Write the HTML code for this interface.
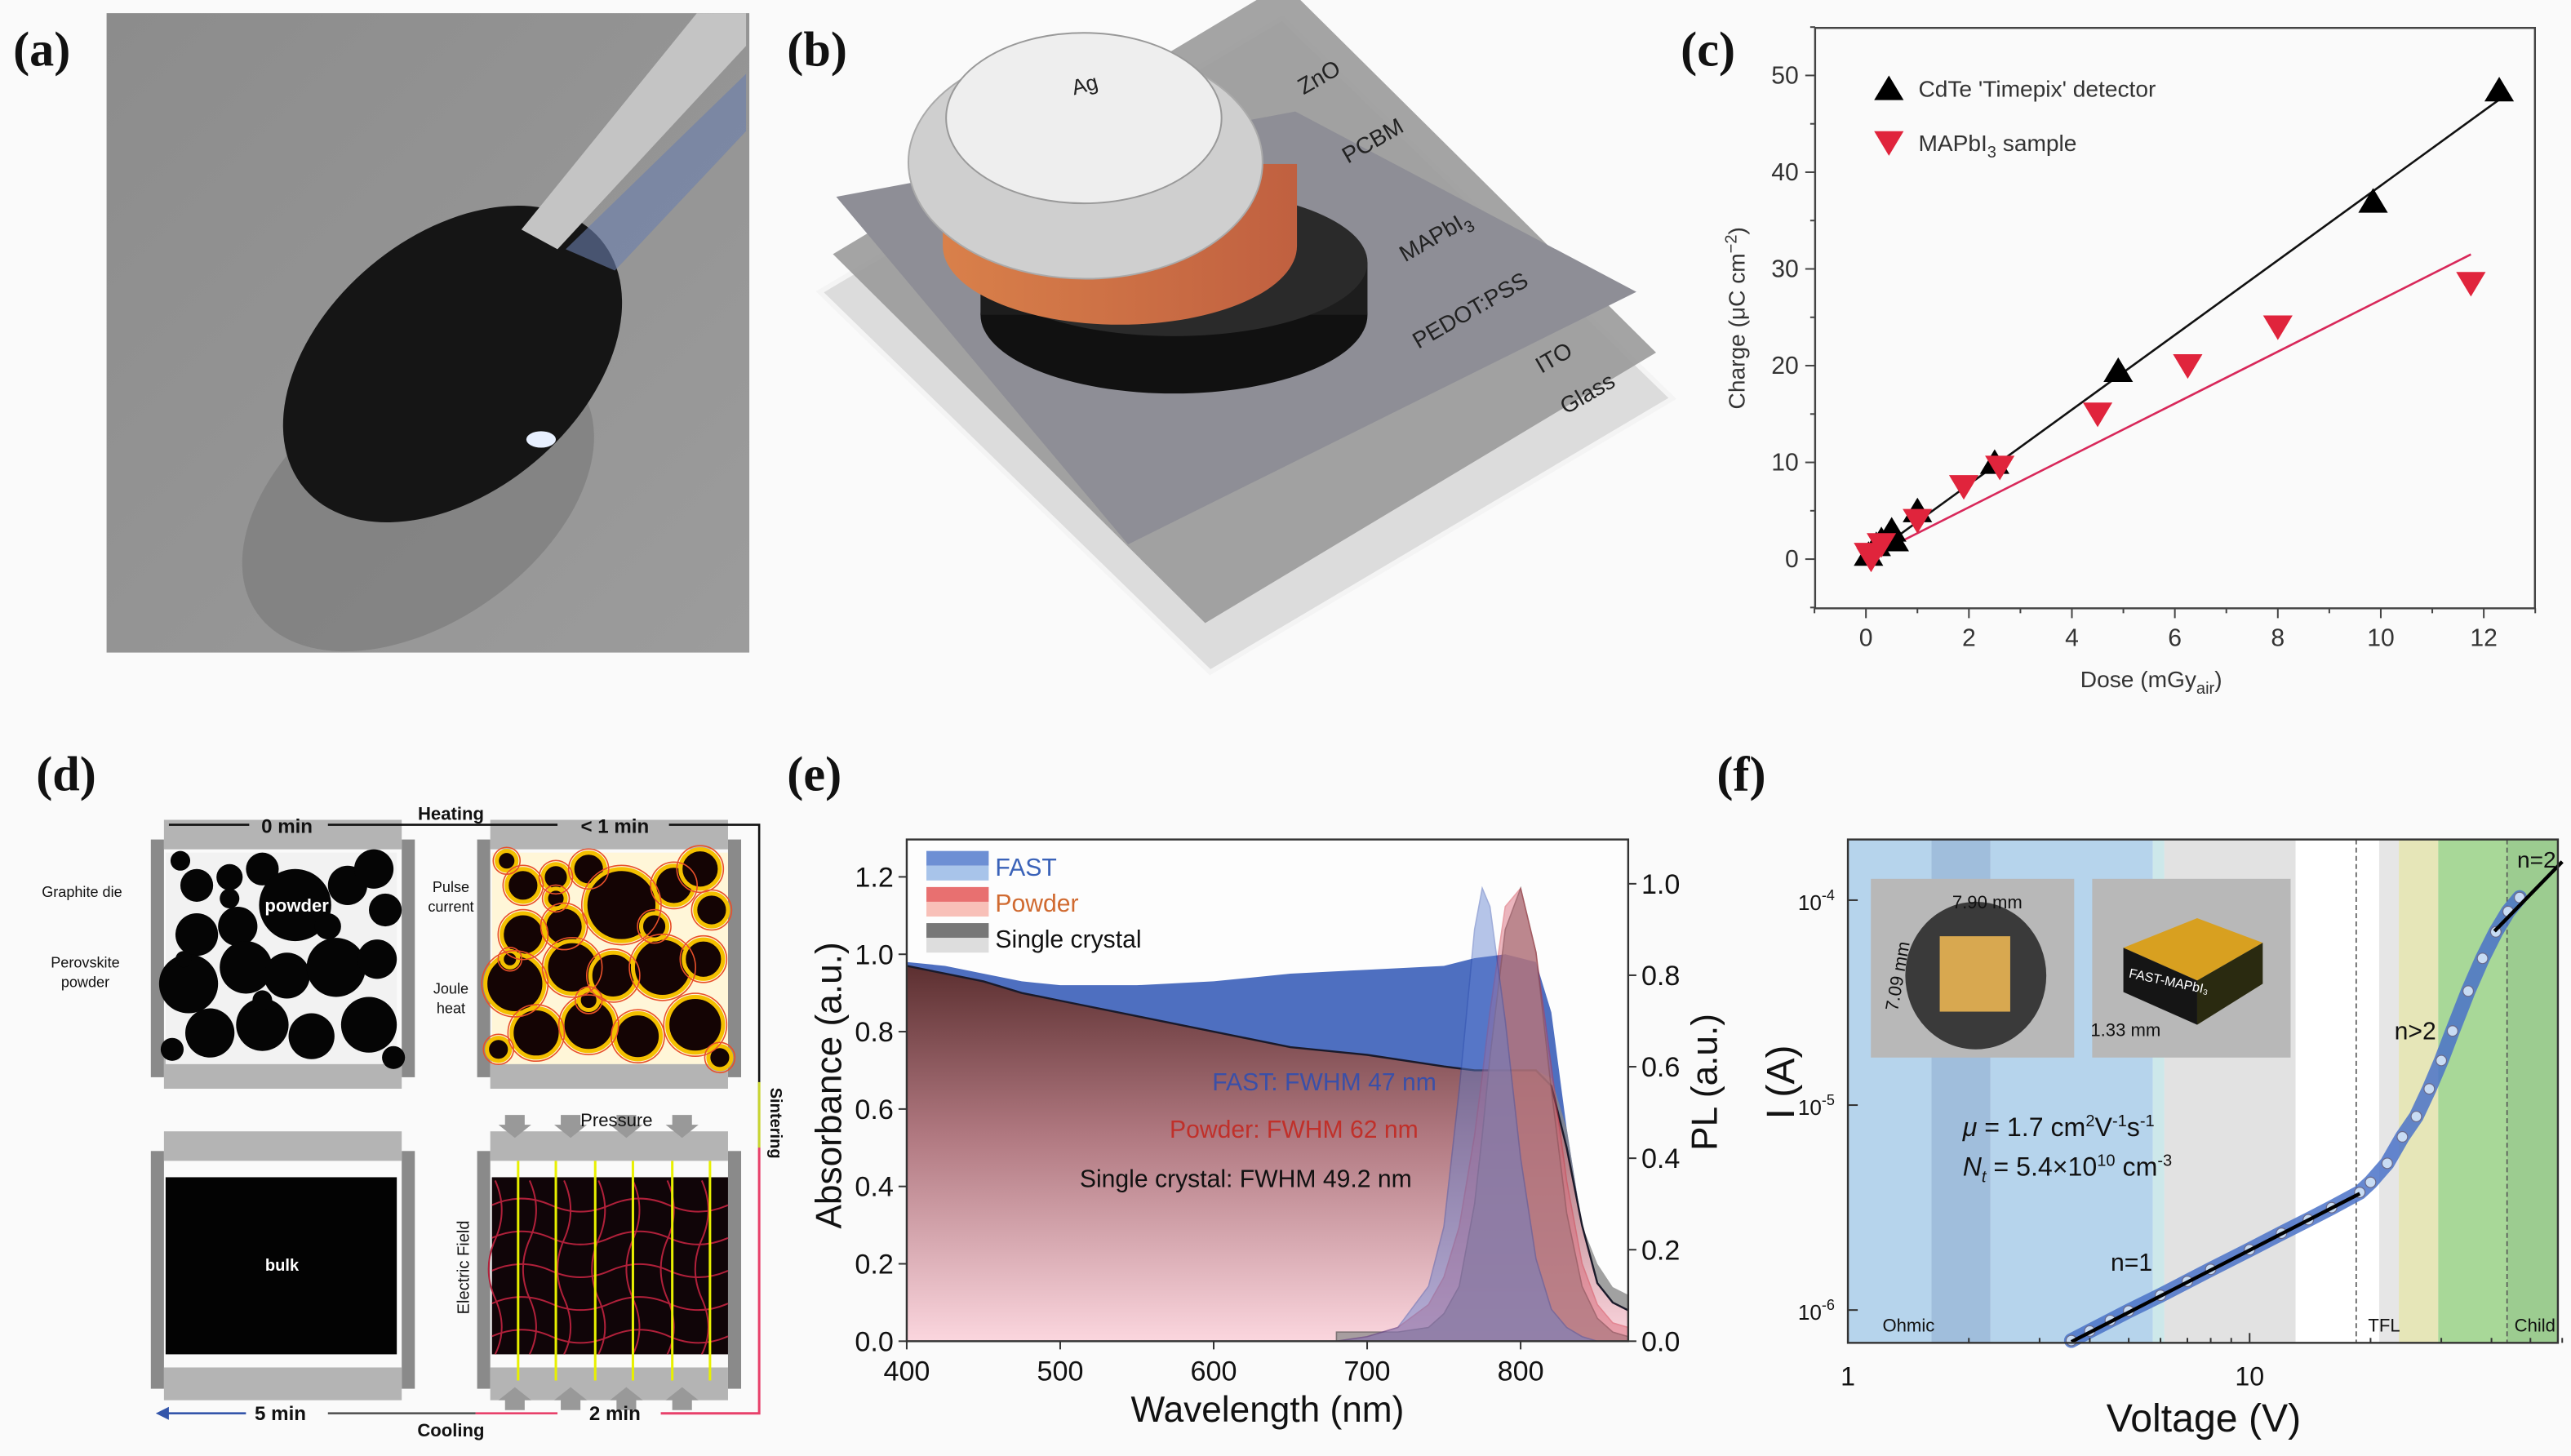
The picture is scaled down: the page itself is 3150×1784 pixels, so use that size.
<!DOCTYPE html>
<html><head><meta charset="utf-8">
<style>
html,body{margin:0;padding:0;background:#fafafa;}
svg{display:block;font-family:"Liberation Sans",sans-serif;}
.lbl{font-family:"Liberation Serif",serif;font-weight:bold;font-size:30px;fill:#111;}
</style></head>
<body>
<svg id="fig" width="3150" height="1784" viewBox="0 0 1568 888" xmlns="http://www.w3.org/2000/svg">
<defs>
<linearGradient id="gA" x1="0" y1="0" x2="1" y2="1"><stop offset="0" stop-color="#8c8c8c"/><stop offset="1" stop-color="#9c9c9c"/></linearGradient>
<linearGradient id="gPow" x1="0" y1="0" x2="0" y2="1"><stop offset="0" stop-color="#5c2f30"/><stop offset="0.45" stop-color="#b07880"/><stop offset="1" stop-color="#fbd6de"/></linearGradient>
<linearGradient id="gOr" x1="0" y1="0" x2="1" y2="0"><stop offset="0" stop-color="#d9804a"/><stop offset="1" stop-color="#c06040"/></linearGradient>
</defs>

<text class="lbl" x="8" y="40">(a)</text>
<text class="lbl" x="480" y="40">(b)</text>
<text class="lbl" x="1025" y="40">(c)</text>
<text class="lbl" x="22" y="482">(d)</text>
<text class="lbl" x="480" y="482">(e)</text>
<text class="lbl" x="1047" y="482">(f)</text>

<g>
<rect x="65" y="8" width="392" height="390" fill="url(#gA)"/>
<ellipse cx="255" cy="305" rx="120" ry="75" transform="rotate(-35 255 305)" fill="#747474" opacity="0.55"/>
<ellipse cx="276" cy="222" rx="118" ry="78" transform="rotate(-40 276 222)" fill="#151515"/>
<polygon points="318,140 340,152 455,28 455,8 425,8" fill="#c4c4c4"/>
<polygon points="345,152 455,45 455,80 375,165" fill="#6a7fae" opacity="0.6"/>
<ellipse cx="330" cy="268" rx="9" ry="5" fill="#e8f0ff"/>
</g>

<g>
<polygon points="500,178 782,11 1020,243 738,410" fill="#dcdcdc" stroke="#f4f4f4" stroke-width="3"/>
<polygon points="508,155 783,-10 1010,215 735,380" fill="#9a9a9a" opacity="0.9"/>
<polygon points="510,120 790,68 998,178 688,332" fill="#8e8e96"/>
<ellipse cx="716" cy="192" rx="118" ry="48" fill="#111"/>
<rect x="598" y="160" width="236" height="32" fill="#1d1d1d"/>
<ellipse cx="716" cy="160" rx="118" ry="45" fill="#2a2a2a"/>
<ellipse cx="683" cy="150" rx="108" ry="48" fill="url(#gOr)"/>
<rect x="575" y="100" width="216" height="50" fill="url(#gOr)"/>
<ellipse cx="662" cy="99" rx="108" ry="71" fill="#cfcfcf" stroke="#aaa"/>
<ellipse cx="661" cy="72" rx="84" ry="52" fill="#eeeeee" stroke="#999"/>
<text x="655" y="58" font-size="13" fill="#222" transform="rotate(-15 655 58)">Ag</text>
<text x="795" y="58" font-size="14" fill="#222" transform="rotate(-30 795 58)">ZnO</text>
<text x="822" y="100" font-size="14" fill="#222" transform="rotate(-30 822 100)">PCBM</text>
<text x="857" y="160" font-size="14" fill="#222" transform="rotate(-30 857 160)">MAPbI<tspan font-size="10" dy="4">3</tspan></text>
<text x="865" y="213" font-size="14" fill="#222" transform="rotate(-30 865 213)">PEDOT:PSS</text>
<text x="940" y="228" font-size="14" fill="#222" transform="rotate(-30 940 228)">ITO</text>
<text x="955" y="253" font-size="14" fill="#222" transform="rotate(-30 955 253)">Glass</text>
</g>

<g id="pc"></g>
<g id="pd"></g>
<g id="pe"></g>
<g id="pf"></g>
</svg>

<script>
// ---------- Panel c data ----------
const cdteDose = [0.05,0.2,0.3,0.5,0.55,1.0,2.5,4.9,9.85,12.3];
const cdteCharge = [0.5,1.5,2.0,3.0,2.0,5.0,10.0,19.5,37.0,48.5];
const mapDose = [0.05,0.1,0.3,1.0,1.9,2.6,4.5,6.25,8.0,11.75];
const mapCharge = [0.5,0.0,1.5,4.0,7.5,9.5,15.0,20.0,24.0,28.5];
const cdteFit = [[0,0],[12.3,47.5]];
const mapFit = [[0,0],[11.75,31.5]];
const cXTicks = [0,2,4,6,8,10,12];
const cYTicks = [0,10,20,30,40,50];

// ---------- Panel e data ----------
const absWl = [400,425,450,475,500,550,600,650,700,750,770,790,810,820,830,840,850,860,870];
const absFast = [0.98,0.97,0.95,0.93,0.92,0.92,0.93,0.95,0.96,0.97,0.99,1.0,0.98,0.85,0.55,0.3,0.12,0.07,0.06];
const absPowder = [0.97,0.95,0.93,0.90,0.88,0.84,0.80,0.76,0.74,0.71,0.70,0.70,0.70,0.66,0.50,0.30,0.15,0.10,0.08];
const absSingle = [0.96,0.95,0.93,0.90,0.88,0.84,0.80,0.76,0.74,0.71,0.70,0.70,0.70,0.68,0.55,0.30,0.20,0.14,0.12];
const plWl = [680,700,720,740,750,760,770,775,780,790,800,810,820,830,840,850,860,870];
const plFast = [0,0.01,0.03,0.12,0.25,0.55,0.9,0.99,0.95,0.7,0.4,0.18,0.07,0.03,0.01,0,0,0];
const plPowder = [0,0.01,0.03,0.08,0.14,0.25,0.45,0.58,0.72,0.95,0.99,0.85,0.6,0.35,0.17,0.08,0.04,0.03];
const plSingle = [0.02,0.02,0.02,0.03,0.06,0.12,0.3,0.45,0.62,0.9,0.99,0.85,0.55,0.28,0.12,0.05,0.02,0.01];
const eXTicks = [400,500,600,700,800];
const eYTicks = [0,0.2,0.4,0.6,0.8,1.0,1.2];
const eY2Ticks = [0,0.2,0.4,0.6,0.8,1.0];

// ---------- Panel f data ----------
const ivV = [3.6,4,4.5,5,6,7,8,10,12,14,16,18.8,20,22,24,26,28,30,32,35,38,41,44,47];
const ivI = [7.1e-7,7.9e-7,8.9e-7,9.9e-7,1.18e-6,1.38e-6,1.58e-6,1.97e-6,2.37e-6,2.76e-6,3.16e-6,3.75e-6,4.2e-6,5.2e-6,7e-6,8.8e-6,1.2e-5,1.65e-5,2.3e-5,3.6e-5,5.2e-5,7e-5,8.8e-5,1.03e-4];
const fitN1 = [[3.6,7.0e-7],[18.8,3.7e-6]];
const fitN2 = [[40.7,7.06e-5],[60,1.54e-4]];
const fXTicks = [1,10];
const fYTicks = [1e-6,1e-5,1e-4];
const fYTickLabels = ["-6","-5","-4"];

const NS = "http://www.w3.org/2000/svg";
function mk(parent, tag, attrs, text){
  const e = document.createElementNS(NS, tag);
  for (const k in attrs) e.setAttribute(k, attrs[k]);
  if (text !== undefined) e.textContent = text;
  parent.appendChild(e);
  return e;
}

// ===== Panel c =====
(function(){
  const g = document.getElementById('pc');
  const L=1107,R=1546,T=17,B=371;
  const x = v => 1138 + v*31.4;
  const y = v => 341 - v*5.9;
  const fr = mk(g,'rect',{x:L,y:T,width:R-L,height:B-T,fill:'none',stroke:'#444','stroke-width':1.2});
  
  
  for (let v=-1; v<=13; v++){
    const t = mk(g,'line',{x1:x(v),x2:x(v),y1:B,y2:B+(v%2===0?6:3),stroke:'#444'});
    
    
  }
  for (let v=-5; v<=55; v+=5){
    const t = mk(g,'line',{x1:L,x2:L-(v%10===0?6:3),y1:y(v),y2:y(v),stroke:'#444'});
    
    
  }
  cXTicks.forEach(v=>{
    const t = mk(g,'text',{x:x(v),y:B+23,'font-size':15,'text-anchor':'middle',fill:'#333'},String(v));
    
    
  });
  cYTicks.forEach(v=>{
    const t = mk(g,'text',{x:L-10,y:y(v)+5,'font-size':15,'text-anchor':'end',fill:'#333'},String(v));
    
    
  });
  const xt = mk(g,'text',{x:1312,y:419,'font-size':14,'text-anchor':'middle',fill:'#333'});
  xt.innerHTML = 'Dose (mGy<tspan font-size="10" dy="4">air</tspan><tspan dy="-4">)</tspan>';
  
  
  const yt = mk(g,'text',{x:0,y:0,'font-size':14,'text-anchor':'middle',fill:'#333',transform:'translate(1064,194) rotate(-90)'});
  yt.innerHTML = 'Charge (μC cm<tspan font-size="10" dy="-5">−2</tspan><tspan dy="5">)</tspan>';
  
  
  const l1 = mk(g,'line',{x1:x(cdteFit[0][0]),y1:y(cdteFit[0][1]),x2:x(cdteFit[1][0]),y2:y(cdteFit[1][1]),stroke:'#111','stroke-width':1.3});
  
  
  const l2 = mk(g,'line',{x1:x(mapFit[0][0]),y1:y(mapFit[0][1]),x2:x(mapFit[1][0]),y2:y(mapFit[1][1]),stroke:'#d8285a','stroke-width':1.3});
  
  
  const up = (cx,cy)=>`${cx},${cy-8} ${cx+9},${cy+7} ${cx-9},${cy+7}`;
  const dn = (cx,cy)=>`${cx-9},${cy-7} ${cx+9},${cy-7} ${cx},${cy+8}`;
  cdteDose.forEach((d,i)=>{
    const p = mk(g,'polygon',{points:up(x(d),y(cdteCharge[i])),fill:'#000'});
    
    
  });
  mapDose.forEach((d,i)=>{
    const p = mk(g,'polygon',{points:dn(x(d),y(mapCharge[i])),fill:'#e0243c'});
    
    
  });
  const lg1 = mk(g,'polygon',{points:up(1152,54),fill:'#000'});
  
  
  const lt1 = mk(g,'text',{x:1170,y:59,'font-size':14,fill:'#333'},"CdTe 'Timepix' detector");
  
  
  const lg2 = mk(g,'polygon',{points:dn(1152,87),fill:'#e0243c'});
  
  
  const lt2 = mk(g,'text',{x:1170,y:92,'font-size':14,fill:'#333'});
  lt2.innerHTML = 'MAPbI<tspan font-size="10" dy="4">3</tspan><tspan dy="-4"> sample</tspan>';
  
  
})();

// ===== Panel d =====
(function(){
  const g = document.getElementById('pd');
  function die(x0,y0,name){
    const d = mk(g,'g',{});
    
    
    mk(d,'rect',{x:x0,y:y0+12,width:8,height:145,fill:'#8a8a8a'});
    mk(d,'rect',{x:x0+153,y:y0+12,width:8,height:145,fill:'#8a8a8a'});
    mk(d,'rect',{x:x0+8,y:y0,width:145,height:18,fill:'#b4b4b4'});
    mk(d,'rect',{x:x0+8,y:y0+144,width:145,height:20,fill:'#b4b4b4'});
    return d;
  }
  const d1 = die(92,500,'die-0min');
  mk(d1,'rect',{x:101,y:520,width:141,height:129,fill:'#f2f2f2'});
  const circ = [[110,525,6],[120,540,10],[140,535,8],[160,530,10],[180,552,22],[212,540,12],[228,530,12],[235,555,10],[120,570,13],[145,565,12],[115,600,18],[150,590,16],[175,595,14],[205,590,18],[230,585,12],[128,630,15],[160,625,16],[190,632,14],[225,625,17],[105,640,7],[240,645,7],[140,548,6],[160,610,6],[200,565,8],[112,585,5]];
  circ.forEach(c=>mk(d1,'circle',{cx:c[0],cy:c[1],r:c[2],fill:'#050505'}));
  mk(d1,'text',{x:181,y:556,'font-size':11,'text-anchor':'middle',fill:'#fff','font-weight':'bold'},'powder');
  const d2 = die(291,500,'die-1min');
  mk(d2,'rect',{x:300,y:520,width:144,height:129,fill:'#fff6d8'});
  circ.forEach(c=>mk(d2,'circle',{cx:c[0]+199,cy:c[1],r:c[2],fill:'#140404',stroke:'#f4c000','stroke-width':2.5}));
  circ.forEach(c=>mk(d2,'circle',{cx:c[0]+199,cy:c[1],r:c[2]+2.2,fill:'none',stroke:'#e8502a','stroke-width':0.8}));
  const d3 = die(92,690,'die-5min');
  mk(d3,'rect',{x:101,y:718,width:141,height:108,fill:'#030303'});
  mk(d3,'text',{x:172,y:775,'font-size':10,'text-anchor':'middle',fill:'#fff','font-weight':'bold'},'bulk');
  const d4 = die(291,690,'die-2min');
  mk(d4,'rect',{x:300,y:718,width:144,height:108,fill:'#100508'});
  for (let i=0;i<7;i++) mk(d4,'path',{d:`M${302+i*21},720 q8,18 0,36 q-8,18 0,36 q8,18 0,34`,stroke:'#b0203a','stroke-width':1,fill:'none'});
  for (let j=0;j<5;j++) mk(d4,'path',{d:`M300,${735+j*20} q18,-8 36,0 q18,8 36,0 q18,-8 36,0 q18,8 36,0`,stroke:'#b0203a','stroke-width':1,fill:'none'});
  [316,339,363,386,410,433].forEach(xx=>mk(d4,'line',{x1:xx,x2:xx,y1:708,y2:842,stroke:'#e8f000','stroke-width':1.5}));
  [314,348,382,416].forEach(xx=>mk(d4,'polygon',{points:`${xx-6},680 ${xx+6},680 ${xx+6},686 ${xx+10},686 ${xx},694 ${xx-10},686 ${xx-6},686`,fill:'#999'}));
  [314,348,382,416].forEach(xx=>mk(d4,'polygon',{points:`${xx-6},860 ${xx+6},860 ${xx+6},854 ${xx+10},854 ${xx},846 ${xx-10},854 ${xx-6},854`,fill:'#999'}));
  mk(g,'polyline',{points:'103,503 152,503',stroke:'#111','stroke-width':1.3,fill:'none'});
  mk(g,'polyline',{points:'200,503 340,503',stroke:'#111','stroke-width':1.3,fill:'none'});
  mk(g,'polyline',{points:'408,503 463,503 463,700',stroke:'#111','stroke-width':1.3,fill:'none'});
  mk(g,'polyline',{points:'463,660 463,700',stroke:'#c8d430','stroke-width':1.5,fill:'none'});
  mk(g,'polyline',{points:'463,700 463,862 403,862',stroke:'#e8406a','stroke-width':1.5,fill:'none'});
  mk(g,'polyline',{points:'340,862 290,862',stroke:'#e8406a','stroke-width':1.3,fill:'none'});
  mk(g,'polyline',{points:'290,862 200,862',stroke:'#555','stroke-width':1.3,fill:'none'});
  mk(g,'polyline',{points:'150,862 100,862',stroke:'#3355aa','stroke-width':1.3,fill:'none'});
  mk(g,'polygon',{points:'95,862 103,858 103,866',fill:'#3355aa'});
  const T = [[175,508,'0 min',12,'bold'],[275,500,'Heating',11,'bold'],[375,508,'< 1 min',12,'bold'],[171,866,'5 min',12,'bold'],[375,866,'2 min',12,'bold'],[275,876,'Cooling',11,'bold'],[376,687,'Pressure',11,'normal'],[50,547,'Graphite die',9,'normal'],[52,590,'Perovskite',9,'normal'],[52,602,'powder',9,'normal'],[275,544,'Pulse',9,'normal'],[275,556,'current',9,'normal'],[275,606,'Joule',9,'normal'],[275,618,'heat',9,'normal']];
  T.forEach(t=>{
    const e = mk(g,'text',{x:t[0],y:t[1],'font-size':t[3],'text-anchor':'middle',fill:'#111','font-weight':t[4]},t[2]);
    
    
  });
  const ef = mk(g,'text',{x:0,y:0,'font-size':10,'text-anchor':'middle',fill:'#111',transform:'translate(286,773) rotate(-90)'},'Electric Field');
  
  
  const st = mk(g,'text',{x:0,y:0,'font-size':10,'text-anchor':'middle',fill:'#111','font-weight':'bold',transform:'translate(470,685) rotate(90)'},'Sintering');
  
  
})();

// ===== Panel e =====
(function(){
  const g = document.getElementById('pe');
  const L=553,R=993,T=512,B=818;
  const x = w => L + (w-400)*0.936;
  const y = a => B - a*236;
  const y2 = p => B - p*279;
  mk(g,'rect',{x:L,y:T,width:R-L,height:B-T,fill:'#fdfdfd'});
  function area(ws, vs, fy, attrs, name){
    let d = `M${x(ws[0])},${B}`;
    ws.forEach((w,i)=>{ d += ` L${x(w)},${fy(vs[i])}`; });
    d += ` L${x(ws[ws.length-1])},${B} Z`;
    const p = mk(g,'path',Object.assign({d:d},attrs));
    
    
    return p;
  }
  function line(ws, vs, fy, col, name){
    const p = mk(g,'polyline',{points:ws.map((w,i)=>`${x(w)},${fy(vs[i])}`).join(' '),fill:'none',stroke:col,'stroke-width':1.2});
    
    
  }
  area(absWl,absFast,y,{fill:'#4e6fc0'},'abs-fast-area');
  area(absWl,absSingle,y,{fill:'#8a8a8a',opacity:0.8},'abs-single-area');
  area(absWl,absPowder,y,{fill:'url(#gPow)'},'abs-powder-area');
  line(absWl,absPowder,y,'#1a1a2a','abs-powder-line');
  area(plWl,plSingle,y2,{fill:'#8c8c8c',opacity:0.75,stroke:'#555','stroke-width':0.8},'pl-single-area');
  area(plWl,plPowder,y2,{fill:'#d66070',opacity:0.45,stroke:'#d03040','stroke-width':0.8},'pl-powder-area');
  area(plWl,plFast,y2,{fill:'#6080d0',opacity:0.45,stroke:'#3050b0','stroke-width':0.8},'pl-fast-area');
  mk(g,'rect',{x:L,y:T,width:R-L,height:B-T,fill:'none',stroke:'#333','stroke-width':1.2});
  eXTicks.forEach(v=>{
    mk(g,'line',{x1:x(v),x2:x(v),y1:B,y2:B+5,stroke:'#333'});
    const t = mk(g,'text',{x:x(v),y:B+24,'font-size':17,'text-anchor':'middle',fill:'#111'},String(v));
    
    
  });
  eYTicks.forEach(v=>{
    mk(g,'line',{x1:L,x2:L-5,y1:y(v),y2:y(v),stroke:'#333'});
    const t = mk(g,'text',{x:L-8,y:y(v)+6,'font-size':17,'text-anchor':'end',fill:'#111'},v.toFixed(1));
    
    
  });
  eY2Ticks.forEach(v=>{
    mk(g,'line',{x1:R,x2:R+5,y1:y2(v),y2:y2(v),stroke:'#333'});
    const t = mk(g,'text',{x:R+8,y:y2(v)+6,'font-size':17,'text-anchor':'start',fill:'#111'},v.toFixed(1));
    
    
  });
  const xt = mk(g,'text',{x:773,y:867,'font-size':22,'text-anchor':'middle',fill:'#111'},'Wavelength (nm)');
  
  
  const yt = mk(g,'text',{x:0,y:0,'font-size':22,'text-anchor':'middle',fill:'#111',transform:'translate(513,662) rotate(-90)'},'Absorbance (a.u.)');
  
  
  const y2t = mk(g,'text',{x:0,y:0,'font-size':22,'text-anchor':'middle',fill:'#111',transform:'translate(1047,660) rotate(-90)'},'PL (a.u.)');
  
  
  const leg = [['FAST','#3a62b8','#6d8fd4','#a8c4ea'],['Powder','#d06a30','#e87070','#f8c0b8'],['Single crystal','#111','#777','#ddd']];
  leg.forEach((l,i)=>{
    const yy = 519 + i*22;
    const gr = mk(g,'g',{});
    
    
    mk(gr,'rect',{x:565,y:yy,width:38,height:9,fill:l[2]});
    mk(gr,'rect',{x:565,y:yy+9,width:38,height:9,fill:l[3]});
    mk(gr,'text',{x:607,y:yy+15,'font-size':15,fill:l[1]},l[0]);
  });
  const ann = [['FAST: FWHM 47 nm',876,665,'#3a4fa8'],['Powder: FWHM 62 nm',865,694,'#c0302a'],['Single crystal: FWHM 49.2 nm',861,724,'#111']];
  ann.forEach(a=>{
    const t = mk(g,'text',{x:a[1],y:a[2],'font-size':15,'text-anchor':'end',fill:a[3]},a[0]);
    
    
  });
})();

// ===== Panel f =====
(function(){
  const g = document.getElementById('pf');
  const L=1127,R=1560,T=512,B=819;
  const x = v => L + Math.log10(v)*245;
  const y = i => 549 - (Math.log10(i)+4)*125;
  const bands = [[1127,1178,'#b6d4ec'],[1178,1214,'#a0bedc'],[1214,1313,'#b6d4ec'],[1313,1320,'#cde8ea'],[1320,1400,'#e2e2e2'],[1400,1451,'#ffffff'],[1451,1463,'#e6e6e6'],[1463,1487,'#e6e6b8'],[1487,1529,'#a8d898'],[1529,1560,'#9ccc90']];
  bands.forEach(b=>{
    const r = mk(g,'rect',{x:b[0],y:T,width:b[1]-b[0],height:B-T,fill:b[2]});
    
    
  });
  [1437,1529].forEach(xx=>mk(g,'line',{x1:xx,x2:xx,y1:T,y2:B,stroke:'#555','stroke-dasharray':'3,2','stroke-width':0.8}));
  const in1 = mk(g,'g',{});
  
  
  mk(in1,'rect',{x:1141,y:536,width:124,height:109,fill:'#b8b8b8'});
  mk(in1,'ellipse',{cx:1205,cy:595,rx:43,ry:45,fill:'#3a3a3a'});
  mk(in1,'rect',{x:1183,y:571,width:43,height:46,fill:'#d8a850'});
  mk(in1,'text',{x:1212,y:554,'font-size':11,'text-anchor':'middle',fill:'#111'},'7.90 mm');
  mk(in1,'text',{x:0,y:0,'font-size':11,'text-anchor':'middle',fill:'#111',transform:'translate(1161,596) rotate(-80)'},'7.09 mm');
  const in2 = mk(g,'g',{});
  
  
  mk(in2,'rect',{x:1276,y:536,width:121,height:109,fill:'#b8b8b8'});
  mk(in2,'polygon',{points:'1295,578 1340,560 1380,575 1340,598',fill:'#d8a020'});
  mk(in2,'polygon',{points:'1295,578 1340,598 1340,625 1295,605',fill:'#151515'});
  mk(in2,'polygon',{points:'1340,598 1380,575 1380,600 1340,625',fill:'#2a2a10'});
  mk(in2,'text',{x:0,y:0,'font-size':8,fill:'#fff',transform:'translate(1298,596) rotate(12)'},'FAST-MAPbI₃');
  mk(in2,'text',{x:1275,y:632,'font-size':11,fill:'#111'},'1.33 mm');
  const fl = mk(g,'polyline',{points:ivV.map((v,i)=>`${x(v)},${y(ivI[i])}`).join(' '),fill:'none',stroke:'#4a72c8','stroke-width':9,'stroke-linecap':'round',opacity:0.85});
  
  
  ivV.forEach((v,i)=>{
    const c = mk(g,'circle',{cx:x(v),cy:y(ivI[i]),r:3.2,fill:'#c8dcf4',stroke:'#6a6a8a','stroke-width':0.6});
    
    
  });
  const f1 = mk(g,'line',{x1:x(fitN1[0][0]),y1:y(fitN1[0][1]),x2:x(fitN1[1][0]),y2:y(fitN1[1][1]),stroke:'#000','stroke-width':2.2});
  
  
  const f2 = mk(g,'line',{x1:x(fitN2[0][0]),y1:y(fitN2[0][1]),x2:x(fitN2[1][0]),y2:y(fitN2[1][1]),stroke:'#000','stroke-width':2.2});
  
  
  mk(g,'rect',{x:L,y:T,width:R-L,height:B-T,fill:'none',stroke:'#333','stroke-width':1.2});
  for (let d=1; d<=60; d++){
    const v = d<=10 ? d : (d%10===0 ? d : null);
    if (v===null) continue;
    mk(g,'line',{x1:x(v),x2:x(v),y1:B,y2:B-(v===1||v===10?6:3),stroke:'#333'});
  }
  fXTicks.forEach(v=>{
    const t = mk(g,'text',{x:x(v),y:B+26,'font-size':16,'text-anchor':'middle',fill:'#111'},String(v));
    
    
  });
  fYTicks.forEach((v,i)=>{
    mk(g,'line',{x1:L,x2:L+6,y1:y(v),y2:y(v),stroke:'#333'});
    const t = mk(g,'text',{x:L-8,y:y(v)+6,'font-size':13,'text-anchor':'end',fill:'#111'});
    t.innerHTML = '10<tspan font-size="9" dy="-6">'+fYTickLabels[i]+'</tspan>';
    
    
  });
  const xt = mk(g,'text',{x:1344,y:873,'font-size':24,'text-anchor':'middle',fill:'#111'},'Voltage (V)');
  
  
  const yt = mk(g,'text',{x:0,y:0,'font-size':24,'text-anchor':'middle',fill:'#111',transform:'translate(1094,660) rotate(-90)'},'I (A)');
  
  
  const labs = [['n=1',1300,775,15],['n>2',1473,634,15],['n=2',1547,529,14],['Ohmic',1164,812,11],['TFL',1454,812,11],['Child',1546,812,11]];
  labs.forEach(l=>{
    const t = mk(g,'text',{x:l[1],y:l[2],'font-size':l[3],'text-anchor':'middle',fill:'#111'},l[0]);
    
    
  });
  const mu = mk(g,'text',{x:1197,y:693,'font-size':16,fill:'#111'});
  mu.innerHTML = '<tspan font-style="italic">μ</tspan> = 1.7 cm<tspan font-size="10" dy="-6">2</tspan><tspan dy="6">V</tspan><tspan font-size="10" dy="-6">-1</tspan><tspan dy="6">s</tspan><tspan font-size="10" dy="-6">-1</tspan>';
  
  
  const nt = mk(g,'text',{x:1197,y:717,'font-size':16,fill:'#111'});
  nt.innerHTML = '<tspan font-style="italic">N</tspan><tspan font-size="10" dy="4" font-style="italic">t</tspan><tspan dy="-4"> = 5.4×10</tspan><tspan font-size="10" dy="-6">10</tspan><tspan dy="6"> cm</tspan><tspan font-size="10" dy="-6">-3</tspan>';
  
  
})();
</script>
</body></html>
